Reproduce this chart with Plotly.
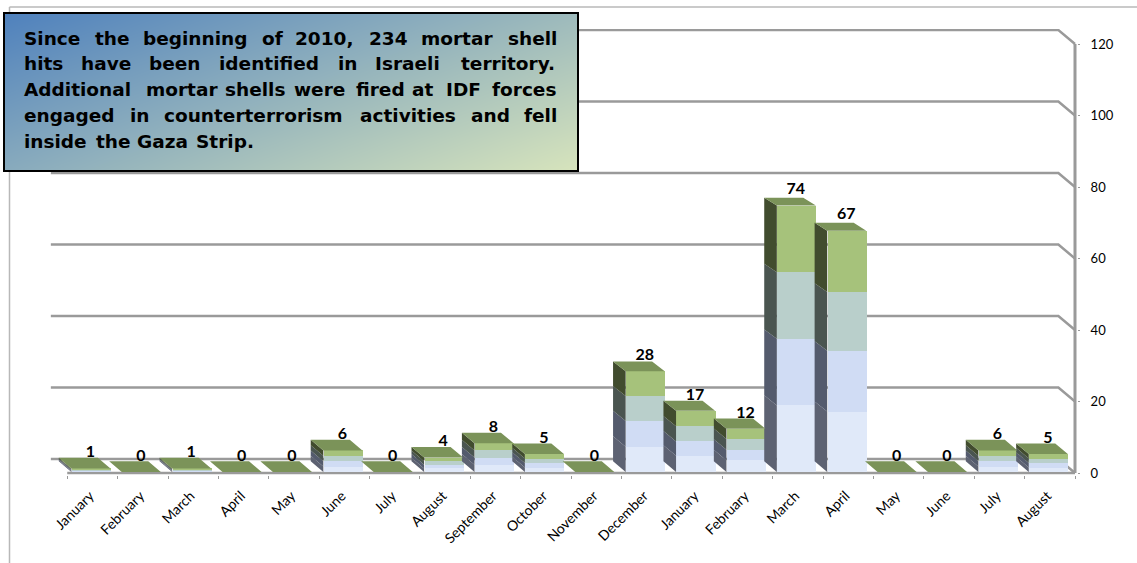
import numpy as np
import plotly.graph_objects as go

# ---------- data ----------
months = ["January", "February", "March", "April", "May", "June", "July", "August",
          "September", "October", "November", "December", "January", "February",
          "March", "April", "May", "June", "July", "August"]
totals = [1, 0, 1, 0, 0, 6, 0, 4, 8, 5, 0, 28, 17, 12, 74, 67, 0, 0, 6, 5]
seg_a = [0.25, 0, 0.25, 0, 0, 1.5, 0, 1, 2, 1.25, 0, 7, 4.5, 3.2, 18.5, 16.8, 0, 0, 1.5, 1.25]
seg_b = [0.25, 0, 0.25, 0, 0, 1.5, 0, 1, 2, 1.25, 0, 7.2, 4, 3, 18.5, 16.9, 0, 0, 1.5, 1.25]
seg_c = [0.25, 0, 0.25, 0, 0, 1.5, 0, 1, 2, 1.25, 0, 6.9, 4.2, 3, 18.5, 16.3, 0, 0, 1.5, 1.25]
seg_d = [0.25, 0, 0.25, 0, 0, 1.5, 0, 1, 2, 1.25, 0, 6.9, 4.3, 2.8, 18.5, 17, 0, 0, 1.5, 1.25]
y_ticks = [0, 20, 40, 60, 80, 100, 120]
note_lines = [
    ["Since", "the", "beginning", "of", "2010,", "234", "mortar", "shell"],
    ["hits", "have", "been", "identified", "in", "Israeli", "territory."],
    ["Additional", "mortar", "shells", "were", "fired", "at", "IDF", "forces"],
    ["engaged", "in", "counterterrorism", "activities", "and", "fell"],
    ["inside", "the", "Gaza", "Strip."],
]

# ---------- page geometry ----------
W, H = 1137, 563
def px(x): return x / W
def py(y): return 1 - y / H

note_x = [
    [24, 95, 142.5, 262, 295, 368.5, 421, 507.5],
    [24, 81, 149, 219, 338, 375, 461],
    [24, 146, 224.5, 294, 356, 412, 446, 491.5],
    [24, 129.5, 163.5, 360, 470.5, 524],
    [24, 96, 137, 196],
]
note_y = [38.5, 64, 89.5, 115, 141]

GREY = "#9a9a9a"
FONT = "Lato"
front_cols = ["#e0e9f9", "#d0dcf4", "#b9cfcb", "#a6c27b"]
side_cols = ["#5d6272", "#545b6d", "#4a5550", "#414c2e"]
top_col = "#7b9359"

BAR_W = 0.775      # front face width, category units
BAR_SHIFT = -0.03  # front face centre offset
DX = 0.25          # bar depth, category units
WALL_DX = 0.33     # wall depth, category units
WALL_DY = 3.9      # wall depth, value units
def bar_dy(v): return 3.0 - 0.0115 * v
def label_dy(v): return bar_dy(v) - 1.0 + 0.012 * v

fig = go.Figure()
xs = np.arange(len(months))

# back wall gridlines with the diagonal to the front axis
for v in y_ticks:
    fig.add_trace(go.Scatter(
        x=[-0.5 - WALL_DX, 19.5 - WALL_DX, 19.5], y=[v + WALL_DY, v + WALL_DY, v],
        mode="lines", line=dict(color=GREY, width=2.5), hoverinfo="skip", showlegend=False,
        xaxis="x", yaxis="y"))
# front axis lines
fig.add_trace(go.Scatter(x=[-0.5, 19.5], y=[0, 0], mode="lines",
                         line=dict(color=GREY, width=2.5), hoverinfo="skip",
                         showlegend=False, xaxis="x", yaxis="y"))
fig.add_trace(go.Scatter(x=[19.5, 19.5], y=[0, 120], mode="lines",
                         line=dict(color=GREY, width=3), hoverinfo="skip",
                         showlegend=False, xaxis="x", yaxis="y"))

# front faces
segs = [seg_a, seg_b, seg_c, seg_d]
for s, col in zip(segs, front_cols):
    fig.add_trace(go.Bar(x=xs + BAR_SHIFT, y=s, width=BAR_W,
                         marker=dict(color=col, line=dict(width=0)),
                         hoverinfo="skip", showlegend=False, xaxis="x", yaxis="y3"))

# side faces
cum = np.cumsum(np.array(segs, dtype=float), axis=0)
cum = np.vstack([np.zeros(len(months)), cum])
for k, col in enumerate(side_cols):
    px_, py_ = [], []
    for i in range(len(months)):
        lo, hi = cum[k, i], cum[k + 1, i]
        if hi <= lo:
            continue
        fx = i + BAR_SHIFT - BAR_W / 2
        px_ += [fx, fx, fx - DX, fx - DX, fx, None]
        py_ += [lo, hi, hi + bar_dy(hi), lo + bar_dy(lo), lo, None]
    fig.add_trace(go.Scatter(x=px_, y=py_, mode="lines", fill="toself", fillcolor=col,
                             line=dict(width=0), hoverinfo="skip", showlegend=False,
                             xaxis="x", yaxis="y3"))

# top faces
tx, ty = [], []
for i, v in enumerate(cum[-1]):
    fl = i + BAR_SHIFT - BAR_W / 2
    fr = fl + BAR_W
    tx += [fl, fr, fr - DX, fl - DX, fl, None]
    ty += [v, v, v + bar_dy(v), v + bar_dy(v), v, None]
fig.add_trace(go.Scatter(x=tx, y=ty, mode="lines", fill="toself", fillcolor=top_col,
                         line=dict(width=0), hoverinfo="skip", showlegend=False,
                         xaxis="x", yaxis="y3"))

# data labels
fig.add_trace(go.Scatter(
    x=xs - 0.04, y=[v + label_dy(v) for v in totals], text=[str(v) for v in totals],
    mode="text", textposition="top center",
    textfont=dict(family=FONT, size=16, color="#000", weight="bold"),
    hoverinfo="skip", showlegend=False, xaxis="x", yaxis="y3"))

# gradient note box
gx = np.linspace(0, 1, 41)
gy = np.linspace(0, 1, 21)
gz = 0.58 * gx[None, :] + 0.42 * gy[:, None]
fig.add_trace(go.Heatmap(
    x=gx, y=gy, z=gz, zmin=0, zmax=1, zsmooth="best", showscale=False,
    colorscale=[[0, "#4f81bd"], [1, "#d7e4bc"]], hoverinfo="skip",
    xaxis="x2", yaxis="y2"))

annotations = []
for words, xlist, y in zip(note_lines, note_x, note_y):
    for w, x in zip(words, xlist):
        annotations.append(dict(
            text=f"<b>{w}</b>", xref="paper", yref="paper", x=px(x), y=py(y),
            xanchor="left", yanchor="middle", showarrow=False,
            font=dict(family="DejaVu Sans", size=18.5, color="#000"),
            borderpad=0, borderwidth=0))

shapes = [
    dict(type="line", xref="paper", yref="paper", x0=px(9.5), x1=1, y0=py(7), y1=py(7),
         line=dict(color="#b8b8b8", width=1.5), layer="below"),
    dict(type="line", xref="paper", yref="paper", x0=px(9.5), x1=px(9.5), y0=py(7), y1=0,
         line=dict(color="#b8b8b8", width=1.5), layer="below"),
    dict(type="rect", xref="paper", yref="paper", x0=px(4), x1=px(578), y0=py(171), y1=py(13),
         line=dict(color="#000", width=2), fillcolor="rgba(0,0,0,0)", layer="above"),
]

X_L, X_R, Y_T, Y_B = 50.6, 1077, 29, 475
fig.update_layout(
    width=W, height=H, margin=dict(l=0, r=0, t=0, b=0),
    paper_bgcolor="white", plot_bgcolor="rgba(0,0,0,0)",
    barmode="stack", bargap=0, showlegend=False,
    annotations=annotations, shapes=shapes,
    font=dict(family=FONT, color="#000"),
    xaxis=dict(
        domain=[px(X_L), px(X_R)], range=[-0.5 - WALL_DX, 19.5 + 2 / 50.4], anchor="y",
        automargin=False,
        showgrid=False, zeroline=False, showline=False,
        tickmode="array", tickvals=list(xs - 0.05), ticktext=months, tickangle=-45,
        ticks="", tickfont=dict(family=FONT, size=14, color="#000"), ticklabelstandoff=9,
        minor=dict(tickmode="array", tickvals=[i - 0.5 for i in range(21)],
                   ticks="outside", ticklen=3, tickwidth=1, tickcolor=GREY, showgrid=False),
    ),
    yaxis=dict(
        domain=[py(Y_B), py(Y_T)], range=[-2 / 3.575, (473 - Y_T) / 3.575], anchor="x", side="right",
        automargin=False,
        showgrid=False, zeroline=False, showline=False,
        tickmode="array", tickvals=y_ticks, ticks="outside", ticklen=2, tickwidth=1,
        tickcolor=GREY, ticklabelstandoff=8,
        tickfont=dict(family=FONT, size=13, color="#000"),
    ),
    yaxis3=dict(
        domain=[py(Y_B), py(Y_T)], range=[(472 - Y_B) / 3.6, (472 - Y_T) / 3.6],
        overlaying="y", anchor="x", visible=False, automargin=False,
    ),
    xaxis2=dict(domain=[px(4), px(578)], range=[0, 1], anchor="y2", visible=False, automargin=False),
    yaxis2=dict(domain=[py(171), py(13)], range=[1, 0], anchor="x2", visible=False, automargin=False),
)

fig.write_html(
    "out.html",
    config={"displayModeBar": False},
    post_script="document.documentElement.style.overflow='hidden';"
                "document.body.style.overflow='hidden';"
                "document.body.style.margin='0';",
)
